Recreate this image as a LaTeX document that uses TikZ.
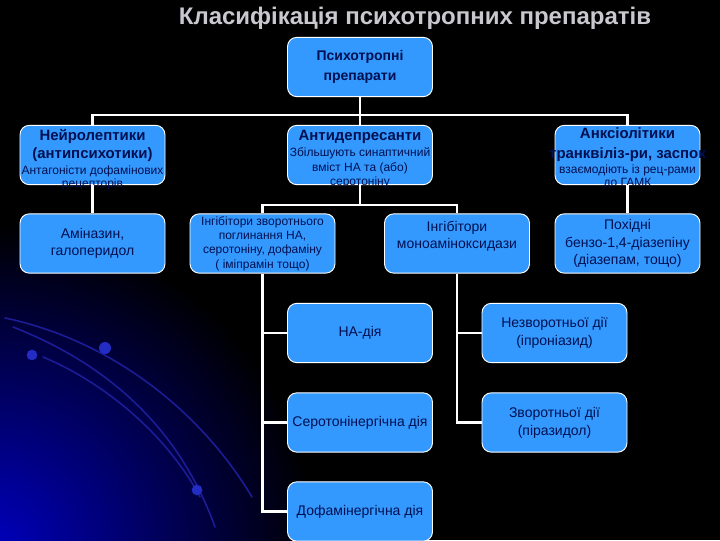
\documentclass[tikz,border=0pt]{standalone}
\usepackage{fontspec}
\setmainfont{Liberation Sans}
\definecolor{boxblue}{RGB}{51,153,255}
\definecolor{txtblue}{RGB}{0,16,80}
\definecolor{arcblue}{RGB}{28,28,150}
\definecolor{dotblue}{RGB}{35,45,195}
\definecolor{glowblue}{RGB}{0,0,190}
\definecolor{titlegray}{RGB}{200,200,206}
\begin{document}
\begin{tikzpicture}[x=0.75pt,y=-0.75pt,
  blk/.style={rectangle, rounded corners=7pt, fill=boxblue, draw=white, line width=0.7pt,
    minimum width=108.75pt, minimum height=44.5pt, inner sep=0pt, text=txtblue, align=center,
    font=\fontsize{10.5}{12.75}\selectfont},
  wire/.style={draw=white, line width=1.6pt},
  hd/.style={text=txtblue, font=\fontsize{11.2}{13}\selectfont\bfseries, inner sep=0pt,
    text height=9pt, text depth=1pt},
  sm/.style={text=txtblue, font=\fontsize{9}{11}\selectfont, inner sep=0pt,
    text height=7pt, text depth=1pt},
  arcline/.style={draw=arcblue, line width=1.2pt, line cap=round},
  dotmark/.style={fill=dotblue},
]
% background
\fill[black] (0,0) rectangle (720,540);
\begin{scope}
  \clip (0,0) rectangle (720,540);
  \shade[inner color=glowblue, outer color=black] (-10,550) circle (245pt);
  \draw[arcline] (5,318) .. controls (110,340) and (200,410) .. (252,497);
  \draw[arcline] (13,327) .. controls (110,365) and (180,430) .. (215,527);
  \draw[arcline] (43,357) .. controls (110,385) and (170,440) .. (200,497);
  \fill[dotmark] (32,355) circle (4pt);
  \fill[dotmark] (105,348) circle (4.5pt);
  \fill[dotmark] (197,490) circle (4pt);
\end{scope}
\useasboundingbox (0,0) rectangle (720,540);

% title
\node[font=\fontsize{18}{20}\selectfont\bfseries, text=titlegray, inner sep=0pt] (title) at (415,18)
  {Класифікація психотропних препаратів};

% boxes
\node[blk, font=\fontsize{10.5}{15}\selectfont\bfseries] (root) at (360,67) {Психотропні\\препарати};

\node[blk] (neuro) at (92.5,155) {};
\node[hd] (neuroA) at (92.5,135) {Нейролептики};
\node[hd] (neuroB) at (92.5,153) {(антипсихотики)};
\node[sm] (neuroC) at (92.5,170) {Антагоністи дофамінових};
\node[sm] (neuroD) at (92.5,183) {рецепторів};

\node[blk] (antid) at (360,155) {};
\node[hd] (antidA) at (360,135) {Антидепресанти};
\node[sm] (antidB) at (360,152) {Збільшують синаптичний};
\node[sm] (antidC) at (360,167) {вміст НА та (або)};
\node[sm] (antidD) at (360,181) {серотоніну};

\node[blk] (anx) at (627.5,155) {};
\node[hd] (anxA) at (627.5,133) {Анксіолітики};
\node[hd] (anxB) at (627.5,153) {транквіліз-ри, заспок};
\node[sm] (anxC) at (627.5,169) {взаємодіють із рец-рами};
\node[sm] (anxD) at (627.5,182) {до ГАМК};

\node[blk] (amin) at (92.5,243.5) {Аміназин,\\галоперидол};
\node[blk, font=\fontsize{9}{10.7}\selectfont] (reup) at (262.5,243.5)
  {Інгібітори зворотнього\\поглинання НА,\\серотоніну, дофаміну\\( іміпрамін тощо)};
\node[blk] (mao) at (457,243.5) {};
\node[text=txtblue, align=center, inner sep=0pt, font=\fontsize{10.5}{12.75}\selectfont] (maoT) at (457,236.5)
  {Інгібітори\\моноаміноксидази};
\node[blk, font=\fontsize{10.5}{13}\selectfont] (poch) at (627.5,243.5)
  {Похідні\\бензо-1,4-діазепіну\\(діазепам, тощо)};

\node[blk] (na) at (360,333) {НА-дія};
\node[blk] (ser) at (360,422.5) {Серотонінергічна дія};
\node[blk] (dof) at (360,511.5) {Дофамінергічна дія};
\node[blk, font=\fontsize{10.5}{13.5}\selectfont] (irr) at (554.5,333) {Незворотньої дії\\(іпроніазид)};
\node[blk, font=\fontsize{10.5}{13.5}\selectfont] (rev) at (554.5,422.5) {Зворотньої дії\\(піразидол)};

% connectors
\coordinate (j1) at (360,115);
\coordinate (j2) at (360,205);
\draw[wire] (root.south) -- (j1);
\draw[wire] (neuro.north) |- (j1) -| (anx.north);
\draw[wire] (j1) -- (antid.north);
\draw[wire] (neuro.south) -- (amin.north);
\draw[wire] (antid.south) -- (j2);
\draw[wire] (reup.north) |- (j2) -| (mao.north);
\draw[wire] (anx.south) -- (poch.north);
\draw[wire] (reup.south) |- (na.west);
\draw[wire] (reup.south) |- (ser.west);
\draw[wire] (reup.south) |- (dof.west);
\draw[wire] (mao.south) |- (irr.west);
\draw[wire] (mao.south) |- (rev.west);
\end{tikzpicture}
\end{document}
